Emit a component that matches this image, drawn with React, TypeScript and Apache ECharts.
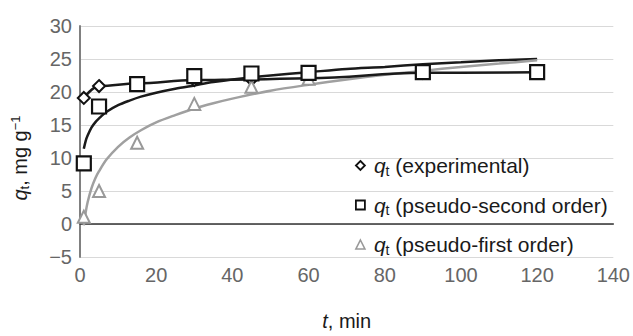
import React, { useEffect, useRef } from "react";
import * as echarts from "echarts";

const timePoints = [1, 5, 15, 30, 45, 60, 90, 120];
const qtExperimental = [19.1, 20.9, 21.3, 21.8, 21.9, 22.1, 22.9, 23.0];
const qtPseudoSecond = [9.2, 17.8, 21.2, 22.4, 22.8, 22.9, 23.0, 23.0];
const qtPseudoFirst = [1.1, 5.0, 12.3, 18.2, 20.8, 22.0, 22.9, 23.0];

const fitTimes = [1, 1.5, 2, 3, 4, 5, 7, 10, 13, 16, 20, 25, 30, 35, 40, 50, 60, 70, 80, 90, 100, 110, 120];
const fitSecondOrder = [11.4, 12.6, 13.4, 14.6, 15.4, 16.0, 17.0, 18.0, 18.7, 19.3, 19.9, 20.5, 21.0, 21.5, 21.9, 22.5, 23.0, 23.5, 23.8, 24.2, 24.5, 24.8, 25.0];
const fitFirstOrder = [-0.2, 1.8, 3.3, 5.4, 6.9, 8.0, 9.8, 11.7, 13.1, 14.2, 15.4, 16.5, 17.5, 18.3, 19.0, 20.2, 21.1, 21.9, 22.6, 23.2, 23.8, 24.3, 24.8];

const legendNames = ["experimental", "pseudo-second order", "pseudo-first order"];
const xTicks = { min: 0, max: 140, interval: 20 };
const yTicks = { min: -5, max: 30, interval: 5 };

const FONT = "Liberation Sans, Arial, Helvetica, sans-serif";
const DARK = "#1a1a1a";

function pairs(xs: number[], ys: number[]) {
  return xs.map((x, i) => [x, ys[i]]);
}

export default function App() {
  const ref = useRef<HTMLDivElement>(null);
  useEffect(() => {
    if (!ref.current) return;
    const chart = echarts.init(ref.current, null, { renderer: "svg" });
    const markerStyle = (border: string, bw: number) => ({
      color: "#ffffff",
      borderColor: border,
      borderWidth: bw,
      opacity: 1,
    });
    chart.setOption({
      animation: false,
      grid: { left: 80, right: 18, top: 26, bottom: 29, containLabel: false },
      legend: {
        orient: "vertical",
        left: 350,
        top: 150,
        itemGap: 17,
        itemWidth: 9,
        itemHeight: 9,
        data: [
          { name: legendNames[0], icon: "diamond", itemStyle: markerStyle("#111", 1.8) },
          { name: legendNames[1], icon: "rect", itemStyle: markerStyle("#111", 1.8) },
          { name: legendNames[2], icon: "triangle", itemStyle: markerStyle("#999", 1.6) },
        ],
        formatter: (name: string) => `{q|q}{s|t}{n| (${name})}`,
        textStyle: {
          fontFamily: FONT,
          color: DARK,
          rich: {
            q: { fontSize: 21, fontStyle: "italic", fontFamily: FONT, lineHeight: 24, color: DARK, padding: [0, 0, 0, 4] },
            s: { fontSize: 14, fontFamily: FONT, verticalAlign: "bottom", lineHeight: 14, color: DARK },
            n: { fontSize: 21, fontFamily: FONT, lineHeight: 24, color: DARK },
          },
        },
      },
      graphic: [
        {
          type: "text",
          x: 20,
          y: 158,
          rotation: Math.PI / 2,
          style: {
            text: "{q|q}{s|t}{n|, mg g}{p|−1}",
            align: "center",
            verticalAlign: "middle",
            rich: {
              q: { fontSize: 20, fontStyle: "italic", fontFamily: FONT, lineHeight: 22, fill: DARK },
              s: { fontSize: 13, fontFamily: FONT, verticalAlign: "bottom", lineHeight: 13, fill: DARK },
              n: { fontSize: 20, fontFamily: FONT, lineHeight: 22, fill: DARK },
              p: { fontSize: 13, fontFamily: FONT, verticalAlign: "top", lineHeight: 13, fill: DARK },
            },
          },
        },
      ],
      xAxis: {
        type: "value",
        min: xTicks.min,
        max: xTicks.max,
        interval: xTicks.interval,
        name: "{t|t}{n|, min}",
        nameLocation: "middle",
        nameGap: 54,
        nameTextStyle: {
          rich: {
            t: { fontSize: 20, fontStyle: "italic", fontFamily: FONT, color: DARK },
            n: { fontSize: 20, fontFamily: FONT, color: DARK },
          },
        },
        axisLine: { onZero: true, lineStyle: { color: "#333", width: 1.5 } },
        axisTick: { show: false },
        splitLine: { show: false },
        axisLabel: { fontSize: 20, fontFamily: FONT, color: "#666", margin: 8 },
      },
      yAxis: {
        type: "value",
        min: yTicks.min,
        max: yTicks.max,
        interval: yTicks.interval,
        axisLine: { show: true, onZero: true, lineStyle: { color: "#808080", width: 2 } },
        axisTick: { show: false },
        splitLine: { show: true, lineStyle: { color: "#d9d9d9", width: 1 } },
        axisLabel: {
          fontSize: 20,
          fontFamily: FONT,
          color: "#666",
          margin: 8,
          formatter: (v: number) => String(v).replace("-", "−"),
        },
      },
      series: [
        {
          name: "fit-second",
          type: "line",
          data: pairs(fitTimes, fitSecondOrder),
          smooth: 0.3,
          showSymbol: false,
          symbol: "none",
          lineStyle: { color: DARK, width: 2.5 },
          z: 2,
        },
        {
          name: "fit-first",
          type: "line",
          data: pairs(fitTimes, fitFirstOrder),
          smooth: 0.3,
          showSymbol: false,
          symbol: "none",
          lineStyle: { color: "#a0a0a0", width: 2.5 },
          z: 2,
        },
        {
          name: legendNames[0],
          type: "line",
          data: pairs(timePoints, qtExperimental),
          smooth: 0.4,
          smoothMonotone: "x",
          symbol: "diamond",
          symbolSize: 12,
          lineStyle: { color: DARK, width: 2.5 },
          itemStyle: markerStyle("#111", 2),
          z: 3,
        },
        {
          name: legendNames[2],
          type: "scatter",
          data: pairs(timePoints, qtPseudoFirst),
          symbol: "triangle",
          symbolSize: 12,
          itemStyle: markerStyle("#999", 2),
          z: 4,
        },
        {
          name: legendNames[1],
          type: "scatter",
          data: pairs(timePoints, qtPseudoSecond),
          symbol: "rect",
          symbolSize: 14,
          itemStyle: markerStyle("#111", 2.2),
          z: 5,
        },
      ],
    });
    return () => chart.dispose();
  }, []);
  return <div ref={ref} style={{ width: 633, height: 336, position: "absolute", left: 0, top: 0 }} />;
}
